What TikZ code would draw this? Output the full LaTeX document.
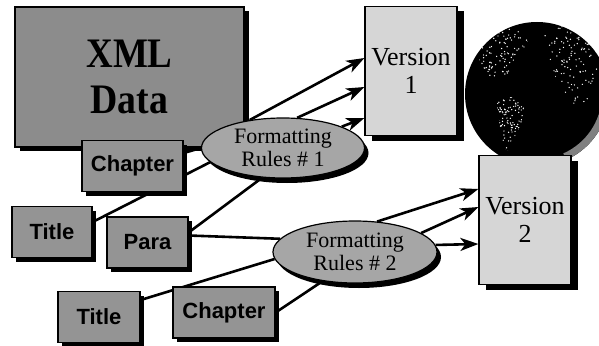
\documentclass[tikz,border=0pt]{standalone}
\usepackage{fontspec}
\setmainfont{Liberation Serif}
\setsansfont{Liberation Sans}
\usetikzlibrary{shapes.geometric, shadows, arrows.meta}
\pgfdeclarelayer{back}
\pgfsetlayers{back,main}

\begin{document}
\begin{tikzpicture}[x=1pt, y=-1pt,
  boxshadow/.style={drop shadow={shadow xshift=#1, shadow yshift=-4pt, fill=black, opacity=1}},
  tagbox/.style={draw=black, line width=1.2pt, fill=black!42, inner sep=0pt,
    minimum height=51pt, boxshadow=4pt,
    font=\sffamily\bfseries\fontsize{22}{24}\selectfont},
  databox/.style={draw=black, line width=1.2pt, fill=black!45, inner sep=0pt,
    minimum width=229pt, minimum height=140pt, align=center, boxshadow=5pt,
    font=\bfseries\fontsize{42}{48}\selectfont},
  verbox/.style={draw=black, line width=1.2pt, fill=black!16, inner sep=0pt,
    minimum width=92pt, minimum height=129pt, align=center,
    drop shadow={shadow xshift=7pt, shadow yshift=-5pt, fill=black, opacity=1},
    font=\fontsize{26}{28}\selectfont},
  rulesell/.style={ellipse, draw=black, line width=1.2pt, fill=black!35, inner sep=0pt,
    minimum width=163pt, minimum height=60pt, align=center,
    drop shadow={shadow xshift=4pt, shadow yshift=-5pt, fill=black, opacity=1},
    font=\fontsize{22}{23}\selectfont},
  wire/.style={line width=2.6pt, black},
  flow/.style={line width=2.6pt, black, -{Stealth[length=18pt, width=13pt, inset=5pt]}}
]
\useasboundingbox (0,0) rectangle (599,345);

% source document
\node[databox] (xml) at (129.5,77) {\scalebox{0.88}[1]{XML}\\[-2pt]\scalebox{0.9}[1]{Data}};

% globe behind the output pages, with a light rim on its lower right
\node[circle, fill=black, minimum size=144pt, inner sep=0pt] (globe) at (537,94) {};
\draw[black!50, line width=7pt] (537,94) ++(3:68.5) arc[start angle=3, end angle=66, radius=68.5];
\pgfmathsetseed{11}
% continents as white speckle: outline, then x-origin, x-range, y-origin, y-range
\foreach \cont/\xa/\xw/\ya/\yh in {
  {(474,44) -- (486,30) -- (504,25) -- (522,30) -- (528,42) -- (520,55) -- (512,62) -- (508,76) -- (498,84) -- (488,75) -- (480,62) -- cycle}/472/58/24/62,
  {(496,100) -- (512,97) -- (524,106) -- (522,122) -- (514,138) -- (507,152) -- (502,140) -- (499,120) -- cycle}/494/32/96/58,
  {(543,36) -- (560,26) -- (582,30) -- (596,45) -- (598,75) -- (590,98) -- (578,110) -- (568,100) -- (560,86) -- (552,70) -- (548,52) -- cycle}/542/58/25/87} {
  \begin{scope}
    \clip \cont;
    \foreach \k in {1,...,170} {
      \pgfmathsetmacro\px{\xa+rnd*\xw}
      \pgfmathsetmacro\py{\ya+rnd*\yh}
      \fill[white] (\px,\py) circle[radius=0.7];
    }
  \end{scope}
}

% output pages
\node[verbox] (v1) at (411,71) {Version\\1};
\node[verbox] (v2) at (525,220) {Version\\2};

% element tags
\node[tagbox, minimum width=101pt] (ch1) at (132.5,166) {Chapter};
\node[tagbox, minimum width=80pt] (t1) at (52,232) {Title};
\node[tagbox, minimum width=81pt] (para) at (147.5,242.5) {Para};
\node[tagbox, minimum width=82pt] (t2) at (99,317) {Title};
\node[tagbox, minimum width=102pt] (ch2) at (224,312.5) {Chapter};

% style sheets
\node[rulesell] (e1) at (283,148) {Formatting\\Rules \# 1};
\node[rulesell, minimum width=164pt, minimum height=62pt] (e2) at (355,252) {Formatting\\Rules \# 2};

% tags feeding the style sheets
\begin{pgfonlayer}{back}
  \draw[wire] ([yshift=13pt]ch1.east) -- (e1.west);
  \draw[wire] ([yshift=10pt]t1.east) -- (e1.191);
  \draw[wire] ([yshift=10pt]para.east) -- (e1.235);
  \draw[wire] ([yshift=7pt]para.east) -- (e2.170);
  \draw[wire] ([yshift=17pt]t2.east) -- (e2.185);
  \draw[wire] (ch2.east) -- (e2.222);
\end{pgfonlayer}

% style sheets producing the versions
\draw[flow] (e1.140) -- ([yshift=13pt]v1.west);
\draw[flow] (e1.65) -- ([yshift=-16pt]v1.west);
\draw[flow] (e1.20) -- ([yshift=-47pt]v1.west);
\draw[flow] (e2.54) -- ([yshift=31pt]v2.west);
\draw[flow] (e2.16) -- ([yshift=13pt]v2.west);
\draw[flow] (e2.5) -- ([yshift=-24pt]v2.west);
\end{tikzpicture}
\end{document}
